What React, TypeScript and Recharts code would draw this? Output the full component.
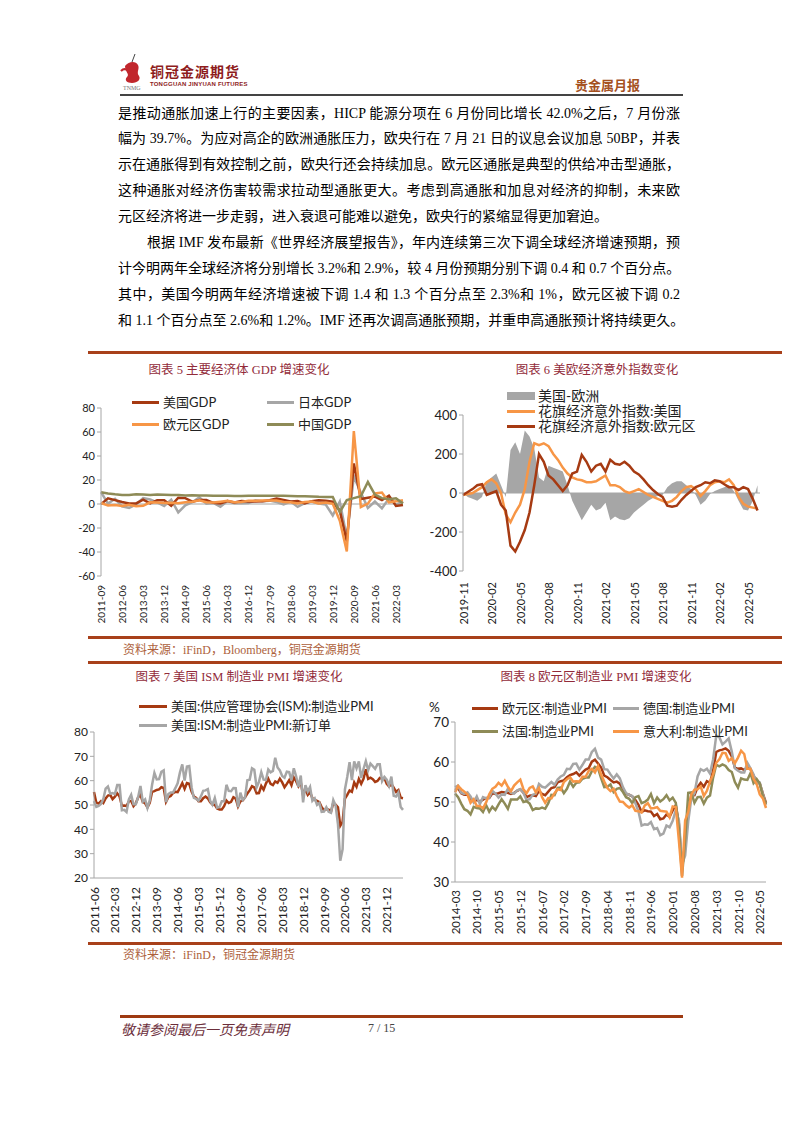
import React from "react";
import { LineChart, ComposedChart, Line, Area, XAxis, YAxis, ReferenceLine } from "recharts";

// ---------- fonts & colours ----------
const SERIF = '"Liberation Serif", "Noto Sans CJK SC", serif';
const CHART_FONT = 'Lato, "Noto Sans CJK SC", sans-serif';
const TEXT = "#222";
const RULE_RED = "#A8401A";
const TITLE_RED = "#922B3A";
const SOURCE_BROWN = "#AD5F3C";
const AXIS_GRAY = "#A6A6A6";

const C_DARKRED = "#A63A12";
const C_GRAY = "#A6A6A6";
const C_ORANGE = "#F79646";
const C_OLIVE = "#8E8B57";

// ---------- body text ----------
const PARA_LINES = [
  "是推动通胀加速上行的主要因素，HICP 能源分项在 6 月份同比增长 42.0%之后，7 月份涨",
  "幅为 39.7%。为应对高企的欧洲通胀压力，欧央行在 7 月 21 日的议息会议加息 50BP，并表",
  "示在通胀得到有效控制之前，欧央行还会持续加息。欧元区通胀是典型的供给冲击型通胀，",
  "这种通胀对经济伤害较需求拉动型通胀更大。考虑到高通胀和加息对经济的抑制，未来欧",
  "元区经济将进一步走弱，进入衰退可能难以避免，欧央行的紧缩显得更加窘迫。",
  "根据 IMF 发布最新《世界经济展望报告》，年内连续第三次下调全球经济增速预期，预",
  "计今明两年全球经济将分别增长 3.2%和 2.9%，较 4 月份预期分别下调 0.4 和 0.7 个百分点。",
  "其中，美国今明两年经济增速被下调 1.4 和 1.3 个百分点至 2.3%和 1%，欧元区被下调 0.2",
  "和 1.1 个百分点至 2.6%和 1.2%。IMF 还再次调高通胀预期，并重申高通胀预计将持续更久。",
];
const SHORT_LINES = [4];
const INDENT_LINES = [5];

// ---------- chart 5: GDP, quarterly 2011-09 .. 2022-06 ----------
const GDP_US = [-0.1, 4.7, 3.2, 1.7, 0.5, 0.5, 3.6, 0.5, 3.2, 3.2, -1.4, 5.2, 4.9, 1.9, 3.3, 3.3, 1.0, 0.4, 2.4, 1.2, 2.4, 2.0, 2.0, 2.3, 3.2, 4.6, 3.3, 2.1, 2.5, 0.5, 2.4, 3.2, 2.8, 1.9, -5.5, -31.2, 33.8, 4.2, 5.2, 6.2, 3.3, 7.0, -1.6, -0.9];
const GDP_JP = [9.9, 0.3, 4.3, -2.0, -3.2, -0.3, 5.0, 3.7, 1.4, -1.7, 3.6, -7.0, -1.1, 1.5, 5.6, 0.3, 0.9, -2.2, 2.5, 0.7, 0.6, 0.8, 3.1, 2.3, 2.8, 1.6, -0.3, 2.0, -2.4, 0.7, 2.0, 0.3, -0.5, -9.5, 2.0, -28.1, 23.0, 9.4, -3.3, 2.1, -3.6, 4.6, -0.5, 2.2];
const GDP_EZ = [0.8, -1.2, -0.8, -1.6, -0.6, -1.9, -1.5, 1.4, 1.2, 0.9, 1.0, 0.6, 1.4, 1.8, 3.1, 1.4, 1.2, 1.9, 2.7, 1.4, 1.6, 2.8, 2.7, 2.9, 3.0, 2.9, 1.6, 1.5, 0.5, 1.7, 2.1, 0.5, 1.2, 0.2, -14.0, -39.6, 60.8, -2.5, 0.3, 8.8, 9.5, 1.4, 2.2, 3.2];
const GDP_CN = [9.7, 8.8, 8.1, 7.6, 7.5, 8.1, 7.9, 7.6, 7.9, 7.7, 7.4, 7.5, 7.1, 7.2, 7.0, 7.0, 6.9, 6.8, 6.9, 6.7, 6.7, 6.8, 6.9, 6.9, 6.8, 6.8, 6.8, 6.7, 6.5, 6.4, 6.3, 6.0, 5.9, 5.8, -6.8, 3.2, 4.9, 6.5, 18.3, 7.9, 4.9, 4.0, 4.8, 0.4];

// ---------- chart 6: Citi surprise index, half-month steps from 2019-11 ----------
const SURPRISE_TICKS = ["2019-11", "2020-02", "2020-05", "2020-08", "2020-11", "2021-02", "2021-05", "2021-08", "2021-11", "2022-02", "2022-05"];
const SURPRISE_US = [-10, -5, 0, 15, 30, 55, 70, 50, 0, -110, -150, -100, -60, 20, 160, 255, 245, 255, 240, 200, 170, 130, 100, 80, 70, 65, 55, 55, 60, 75, 90, 40, 40, 30, 10, 0, 10, 20, 5, -10, -20, -30, -40, -50, -40, -20, 10, 30, 35, 20, -15, 10, 40, 55, 60, 55, 70, 40, -20, -55, -70, -75, -80];
const SURPRISE_EU = [-10, 5, 20, 40, 45, -10, 0, 10, -60, -90, -270, -300, -250, -190, -100, 40, 200, 160, 90, 70, 40, 10, 40, 100, 110, 195, 160, 110, 140, 150, 110, 170, 150, 145, 160, 140, 110, 95, 70, 40, 15, -5, -20, -65, -70, -65, -35, -10, 10, 30, 40, 55, 50, 65, 60, 45, 30, 30, 15, 30, 20, -30, -90];
const SURPRISE_DIFF = [0, -20, -30, -40, -20, 60, 80, 100, 40, -20, 220, 260, 200, 320, 290, 230, 80, 60, 140, 130, 120, 110, 40, -40, -90, -140, -100, -60, -90, -80, -50, -140, -120, -135, -140, -130, -100, -80, -60, -40, -25, -15, -10, 30, 50, 60, 60, 40, 20, -10, -60, -40, -5, 10, 20, 30, 40, 10, -40, -85, -90, -40, 40];

// ---------- chart 7: ISM, monthly 2011-06 .. 2022-07 ----------
const ISM_PMI = [
  55.3, 50.9, 50.6, 51.6, 50.8, 52.7, 53.9,
  54.1, 52.4, 53.4, 54.8, 53.5, 49.7, 49.8, 49.6, 51.5, 51.7, 49.5, 50.7,
  53.1, 54.2, 51.3, 50.7, 49.0, 50.9, 55.4, 55.7, 56.2, 56.4, 57.3, 57.0,
  51.3, 53.2, 53.7, 54.9, 55.4, 55.3, 57.1, 59.0, 56.6, 59.0, 58.7, 55.5,
  53.5, 52.9, 51.5, 51.5, 52.8, 53.5, 52.7, 51.1, 50.2, 50.1, 48.6, 48.2,
  48.2, 49.5, 51.8, 50.8, 51.3, 53.2, 52.6, 49.4, 51.5, 51.9, 53.2, 54.7,
  56.0, 57.7, 57.2, 54.8, 54.9, 57.8, 56.3, 58.8, 60.8, 58.7, 58.2, 59.7,
  59.1, 60.8, 59.3, 57.3, 58.7, 60.2, 58.1, 61.3, 59.8, 57.7, 59.3, 54.1,
  56.6, 54.2, 55.3, 52.8, 52.1, 51.7, 51.2, 49.1, 47.8, 48.3, 48.1, 47.2,
  50.9, 50.1, 49.1, 41.5, 43.1, 52.6, 54.2, 56.0, 55.4, 59.3, 57.5, 60.7,
  58.7, 60.8, 64.7, 60.7, 61.2, 60.6, 59.5, 59.9, 61.1, 60.8, 61.1, 58.7,
  57.6, 58.6, 57.1, 55.4, 56.1, 53.0, 52.8,
];
const ISM_NEW_ORDERS = [
  51.6, 49.2, 49.6, 50.4, 52.4, 56.7, 57.6,
  54.6, 54.9, 54.5, 58.2, 58.2, 47.8, 48.0, 47.1, 52.3, 54.2, 50.3, 50.3,
  53.3, 57.8, 51.4, 52.3, 48.8, 51.9, 58.3, 63.2, 60.5, 60.6, 63.6, 64.2,
  51.2, 54.5, 55.1, 55.1, 56.9, 58.9, 63.4, 66.7, 60.0, 65.8, 66.0, 57.3,
  52.9, 52.5, 51.8, 53.5, 55.8, 56.0, 56.5, 51.7, 50.1, 52.9, 48.9, 49.2,
  51.5, 51.5, 58.3, 55.8, 55.7, 57.0, 56.9, 49.1, 55.1, 52.1, 53.0, 60.2,
  60.4, 65.1, 64.5, 57.2, 59.5, 63.5, 60.4, 60.3, 64.6, 63.4, 64.0, 69.4,
  65.4, 64.2, 61.9, 61.2, 63.7, 63.5, 60.2, 65.1, 61.8, 57.4, 62.1, 51.1,
  58.2, 55.5, 57.4, 51.7, 52.7, 50.0, 50.8, 47.2, 47.3, 49.1, 47.2, 46.8,
  52.0, 49.8, 42.2, 27.1, 31.8, 56.4, 61.5, 67.6, 60.2, 67.9, 65.1, 67.9,
  61.1, 64.8, 68.0, 64.3, 67.0, 66.0, 64.9, 66.7, 66.7, 59.8, 61.5, 60.4,
  57.9, 61.7, 53.8, 53.5, 55.1, 49.2, 48.0,
];

// ---------- chart 8: euro-area PMIs, monthly 2014-03 .. 2022-07 ----------
const PMI_EZ = [
  53.0, 53.4, 52.2, 51.8, 51.8, 50.7, 50.3, 50.6, 50.1, 50.6,
  51.0, 51.0, 52.2, 52.0, 52.2, 52.5, 52.4, 52.3, 52.0, 52.3, 52.8, 53.2,
  52.3, 51.2, 51.6, 51.7, 51.5, 52.8, 52.0, 51.7, 52.6, 53.5, 53.7, 54.9,
  55.2, 55.4, 56.2, 56.7, 57.0, 57.4, 56.6, 57.4, 58.1, 58.5, 60.1, 60.6,
  59.6, 58.6, 56.6, 56.2, 55.5, 54.9, 55.1, 54.6, 53.2, 52.0, 51.8, 51.4,
  50.5, 49.3, 47.5, 47.9, 47.7, 47.6, 46.5, 47.0, 45.7, 45.9, 46.9, 46.3,
  47.9, 49.2, 44.5, 33.4, 39.4, 47.4, 51.8, 51.7, 53.7, 54.8, 53.8, 55.2,
  54.8, 57.9, 62.5, 62.9, 63.1, 63.4, 62.8, 61.4, 58.6, 58.3, 58.4, 58.0,
  58.7, 58.2, 56.5, 55.5, 54.6, 52.1, 49.8,
];
const PMI_DE = [
  53.7, 54.1, 52.3, 52.0, 52.4, 51.4, 49.9, 51.4, 49.5, 51.2,
  50.9, 51.1, 52.8, 52.1, 51.1, 51.9, 51.8, 53.3, 52.3, 52.1, 52.9, 53.2,
  52.3, 50.5, 50.7, 51.8, 52.1, 54.5, 53.8, 53.6, 54.3, 55.0, 54.3, 55.6,
  56.4, 56.8, 58.3, 58.2, 59.5, 59.6, 58.1, 59.3, 60.6, 60.6, 62.5, 63.3,
  61.1, 60.6, 58.2, 58.1, 56.9, 55.9, 56.9, 55.9, 53.7, 52.2, 51.8, 51.5,
  49.7, 47.6, 44.1, 44.4, 44.3, 45.0, 43.2, 43.5, 41.7, 42.1, 44.1, 43.7,
  45.3, 48.0, 45.4, 34.5, 36.6, 45.2, 51.0, 52.2, 56.4, 58.2, 57.8, 58.3,
  57.1, 60.7, 66.6, 66.2, 64.4, 65.1, 65.9, 62.6, 58.4, 57.8, 57.4, 57.4,
  59.8, 58.4, 56.9, 54.6, 54.8, 52.0, 49.3,
];
const PMI_FR = [
  52.1, 51.2, 49.6, 48.2, 47.8, 46.9, 48.8, 48.5, 48.4, 47.5,
  49.2, 47.6, 48.8, 48.0, 49.4, 50.7, 49.6, 48.3, 50.6, 50.6, 50.6, 51.4,
  50.0, 50.2, 49.6, 48.0, 48.4, 48.3, 48.6, 48.3, 49.7, 51.8, 51.7, 53.5,
  53.6, 52.2, 53.3, 55.1, 53.8, 54.8, 54.9, 55.8, 56.1, 56.1, 57.7, 58.8,
  58.4, 55.9, 53.7, 53.8, 54.4, 52.5, 53.3, 53.5, 52.5, 51.2, 50.8, 49.7,
  51.2, 51.5, 49.7, 50.0, 50.6, 52.0, 49.7, 51.1, 50.1, 50.7, 51.7, 50.4,
  51.1, 49.8, 43.2, 31.5, 40.6, 52.3, 52.4, 49.8, 51.2, 51.3, 49.6, 51.1,
  51.6, 56.1, 59.3, 58.9, 59.4, 59.0, 58.0, 57.5, 55.0, 53.6, 55.9, 55.6,
  55.5, 57.2, 54.7, 55.7, 54.6, 51.4, 49.5,
];
const PMI_IT = [
  52.4, 54.0, 53.2, 52.6, 51.9, 49.8, 50.7, 49.0, 49.0, 48.4,
  49.9, 51.9, 53.3, 53.8, 54.8, 54.1, 55.3, 53.8, 52.7, 54.1, 54.9, 55.6,
  53.2, 52.2, 53.5, 53.9, 52.4, 53.5, 51.2, 49.8, 51.0, 50.9, 52.2, 53.2,
  53.0, 55.0, 55.7, 56.2, 55.1, 55.2, 55.1, 56.3, 56.3, 57.8, 58.3, 57.4,
  59.0, 56.8, 55.1, 53.5, 52.7, 53.3, 51.5, 50.1, 50.0, 49.2, 48.6, 49.2,
  47.8, 47.7, 47.4, 49.1, 49.7, 48.4, 48.5, 48.7, 47.8, 47.7, 47.6, 46.2,
  48.9, 48.7, 40.3, 31.1, 45.4, 47.5, 51.9, 53.1, 53.2, 53.9, 51.5, 52.8,
  55.1, 56.9, 59.8, 60.7, 62.3, 62.2, 60.3, 60.9, 59.7, 61.1, 62.8, 62.0,
  58.3, 58.3, 55.8, 54.5, 51.9, 50.9, 48.5,
];

// month labels like "2011-06", stepping `step` months
const monthLabels = (start: string, n: number, step: number) => {
  let [y, m] = start.split("-").map(Number);
  const out: string[] = [];
  for (let i = 0; i < n; i++) {
    out.push(`${y}-${String(m).padStart(2, "0")}`);
    m += step;
    while (m > 12) { m -= 12; y += 1; }
  }
  return out;
};

const gdpQuarters = monthLabels("2011-09", GDP_US.length, 3);
const gdpData = gdpQuarters.map((q, i) => ({ q, us: GDP_US[i], jp: GDP_JP[i], ez: GDP_EZ[i], cn: GDP_CN[i] }));

const surpriseData = SURPRISE_US.map((v, i) => ({ t: i / 2, us: v, eu: SURPRISE_EU[i], diff: SURPRISE_DIFF[i] }));

const ismMonths = monthLabels("2011-06", ISM_PMI.length, 1);
const ismData = ismMonths.map((d, i) => ({ d, pmi: ISM_PMI[i], orders: ISM_NEW_ORDERS[i] }));

const pmiMonths = monthLabels("2014-03", PMI_EZ.length, 1);
const pmiData = pmiMonths.map((d, i) => ({ d, ez: PMI_EZ[i], de: PMI_DE[i], fr: PMI_FR[i], it: PMI_IT[i] }));

// ---------- small pieces ----------
const RotatedTick = ({ x, y, payload, fontSize, offset, format }: any) => {
  const ty = y + offset;
  const label = format ? format(payload.value) : payload.value;
  return (
    <text x={x} y={ty} transform={`rotate(-90 ${x} ${ty})`} textAnchor="end" dominantBaseline="central"
      fontSize={fontSize} fill={TEXT} fontFamily={CHART_FONT}>
      {label}
    </text>
  );
};

const LegendEntry = ({ x, cy, color, text, size = 13, w = 27, h = 3, gap = 4 }: any) => (
  <div style={{ position: "absolute", left: x, top: cy - 7, height: 14, display: "flex", alignItems: "center",
    whiteSpace: "nowrap", fontFamily: CHART_FONT, fontSize: size, color: TEXT, lineHeight: 1 }}>
    <span style={{ display: "inline-block", width: w, height: h, background: color, marginRight: gap }} />
    <span style={{ lineHeight: 1 }}>{text}</span>
  </div>
);

const Rule = ({ y, x1 = 88, x2 = 782, h = 3, color = RULE_RED }: any) => (
  <div style={{ position: "absolute", left: x1, top: y - h / 2, width: x2 - x1, height: h, background: color }} />
);

const Title = ({ cx, cy, text }: any) => (
  <div style={{ position: "absolute", left: cx - 160, top: cy - 9, width: 320, lineHeight: "18px", textAlign: "center",
    fontFamily: SERIF, fontSize: 12.5, color: TITLE_RED, whiteSpace: "nowrap" }}>
    {text}
  </div>
);

const Source = ({ y, text }: any) => (
  <div style={{ position: "absolute", left: 123, top: y - 9, lineHeight: "18px", fontFamily: SERIF, fontSize: 12,
    color: SOURCE_BROWN, whiteSpace: "nowrap" }}>
    {text}
  </div>
);

const yTick = (fs: number) => ({ fontSize: fs, fill: TEXT, fontFamily: CHART_FONT });

// ---------- charts ----------
function GdpChart() {
  return (
    <div style={{ position: "absolute", left: 45, top: 400 }}>
      <LineChart width={362} height={234} data={gdpData} margin={{ top: 8, right: 4, bottom: 0, left: 0 }}>
        <XAxis dataKey="q" scale="point" interval={2} axisLine={false} tickLine={false} tickSize={0} tickMargin={0}
          height={58} tick={(p: any) => <RotatedTick {...p} fontSize={10} offset={9} />} />
        <YAxis domain={[-60, 80]} ticks={[-60, -40, -20, 0, 20, 40, 60, 80]} interval={0} width={56}
          axisLine={{ stroke: AXIS_GRAY }} tickLine={{ stroke: AXIS_GRAY }} tickSize={4} tick={yTick(11)} />
        <ReferenceLine y={0} stroke={AXIS_GRAY} />
        <Line type="linear" dataKey="jp" stroke={C_GRAY} strokeWidth={2.5} dot={false} isAnimationActive={false} />
        <Line type="linear" dataKey="us" stroke={C_DARKRED} strokeWidth={2.5} dot={false} isAnimationActive={false} />
        <Line type="linear" dataKey="ez" stroke={C_ORANGE} strokeWidth={2.5} dot={false} isAnimationActive={false} />
        <Line type="linear" dataKey="cn" stroke={C_OLIVE} strokeWidth={2.5} dot={false} isAnimationActive={false} />
      </LineChart>
      <div style={{ position: "absolute", left: -45, top: -400 }}>
        <LegendEntry x={132} cy={402} color={C_DARKRED} text="美国GDP" />
        <LegendEntry x={267} cy={402} color={C_GRAY} text="日本GDP" />
        <LegendEntry x={132} cy={424} color={C_ORANGE} text="欧元区GDP" />
        <LegendEntry x={267} cy={424} color={C_OLIVE} text="中国GDP" />
      </div>
    </div>
  );
}

function SurpriseChart() {
  return (
    <div style={{ position: "absolute", left: 405, top: 400 }}>
      <ComposedChart width={359} height={231} data={surpriseData} margin={{ top: 15, right: 4, bottom: 0, left: 0 }}>
        <XAxis dataKey="t" type="number" domain={[0, 31.26]} ticks={SURPRISE_TICKS.map((_, i) => i * 3)} interval={0}
          axisLine={false} tickLine={false} tickSize={0} tickMargin={0} height={60}
          tick={(p: any) => <RotatedTick {...p} fontSize={11} offset={11} format={(v: number) => SURPRISE_TICKS[Math.round(v / 3)]} />} />
        <YAxis domain={[-400, 400]} ticks={[-400, -200, 0, 200, 400]} interval={0} width={58}
          axisLine={{ stroke: AXIS_GRAY }} tickLine={{ stroke: AXIS_GRAY }} tickSize={4} tick={yTick(13)} />
        <Area type="linear" dataKey="diff" stroke="none" fill={C_GRAY} fillOpacity={1} isAnimationActive={false} />
        <ReferenceLine y={0} stroke={AXIS_GRAY} />
        <Line type="linear" dataKey="us" stroke={C_ORANGE} strokeWidth={2.5} dot={false} isAnimationActive={false} />
        <Line type="linear" dataKey="eu" stroke={C_DARKRED} strokeWidth={2.5} dot={false} isAnimationActive={false} />
      </ComposedChart>
      <div style={{ position: "absolute", left: -405, top: -400 }}>
        <LegendEntry x={507} cy={396} color={C_GRAY} text="美国-欧洲" size={14} w={28} h={8} gap={3} />
        <LegendEntry x={507} cy={411} color={C_ORANGE} text="花旗经济意外指数:美国" size={14} w={28} gap={3} />
        <LegendEntry x={507} cy={426} color={C_DARKRED} text="花旗经济意外指数:欧元区" size={14} w={28} gap={3} />
      </div>
    </div>
  );
}

function IsmChart() {
  return (
    <div style={{ position: "absolute", left: 40, top: 720 }}>
      <LineChart width={367} height={218} data={ismData} margin={{ top: 12, right: 4, bottom: 0, left: 0 }}>
        <XAxis dataKey="d" scale="point" interval={8} axisLine={{ stroke: AXIS_GRAY }} tickLine={false} tickSize={0}
          tickMargin={0} height={60} tick={(p: any) => <RotatedTick {...p} fontSize={12} offset={9} />} />
        <YAxis domain={[20, 80]} ticks={[20, 30, 40, 50, 60, 70, 80]} interval={0} width={54}
          axisLine={{ stroke: AXIS_GRAY }} tickLine={{ stroke: AXIS_GRAY }} tickSize={4} tick={yTick(12)} />
        <Line type="linear" dataKey="pmi" stroke={C_DARKRED} strokeWidth={2.5} dot={false} isAnimationActive={false} />
        <Line type="linear" dataKey="orders" stroke={C_GRAY} strokeWidth={2.5} dot={false} isAnimationActive={false} />
      </LineChart>
      <div style={{ position: "absolute", left: -40, top: -720 }}>
        <LegendEntry x={139} cy={706} color={C_DARKRED} text="美国:供应管理协会(ISM):制造业PMI" w={28} />
        <LegendEntry x={139} cy={725} color={C_GRAY} text="美国:ISM:制造业PMI:新订单" w={28} />
      </div>
    </div>
  );
}

function EuroPmiChart() {
  return (
    <div style={{ position: "absolute", left: 400, top: 710 }}>
      <LineChart width={370} height={230} data={pmiData} margin={{ top: 12, right: 4, bottom: 0, left: 0 }}>
        <XAxis dataKey="d" scale="point" interval={6} axisLine={{ stroke: AXIS_GRAY }} tickLine={false} tickSize={0}
          tickMargin={0} height={58} tick={(p: any) => <RotatedTick {...p} fontSize={11.5} offset={8} />} />
        <YAxis domain={[30, 70]} ticks={[30, 40, 50, 60, 70]} interval={0} width={55}
          axisLine={{ stroke: AXIS_GRAY }} tickLine={{ stroke: AXIS_GRAY }} tickSize={4} tick={yTick(13.5)} />
        <Line type="linear" dataKey="ez" stroke={C_DARKRED} strokeWidth={2.5} dot={false} isAnimationActive={false} />
        <Line type="linear" dataKey="de" stroke={C_GRAY} strokeWidth={2.5} dot={false} isAnimationActive={false} />
        <Line type="linear" dataKey="fr" stroke={C_OLIVE} strokeWidth={2.5} dot={false} isAnimationActive={false} />
        <Line type="linear" dataKey="it" stroke={C_ORANGE} strokeWidth={2.5} dot={false} isAnimationActive={false} />
      </LineChart>
      <div style={{ position: "absolute", left: -400, top: -710 }}>
        <div style={{ position: "absolute", left: 429, top: 699, fontFamily: CHART_FONT, fontSize: 13.5, color: TEXT }}>%</div>
        <LegendEntry x={472} cy={708} color={C_DARKRED} text="欧元区:制造业PMI" w={26} />
        <LegendEntry x={613} cy={708} color={C_GRAY} text="德国:制造业PMI" w={26} />
        <LegendEntry x={472} cy={731} color={C_OLIVE} text="法国:制造业PMI" w={26} />
        <LegendEntry x={613} cy={731} color={C_ORANGE} text="意大利:制造业PMI" w={26} />
      </div>
    </div>
  );
}

function Header() {
  return (
    <>
      <svg style={{ position: "absolute", left: 118, top: 52 }} width={32} height={42}>
        <path d="M17 2 L14 10" stroke="#444" strokeWidth={1} />
        <path d="M7 14 C11 9, 18 9, 20 13 C22 17, 18 20, 21 24 C23 27, 20 31, 14 31 C9 31, 6 28, 9 25 C12 22, 7 20, 7 14 Z" fill="#C1272D" />
        <path d="M3 19 C6 16, 9 17, 11 20" stroke="#C1272D" strokeWidth={2.2} fill="none" />
        <text x={5} y={38} fontSize={6} fill="#777" fontFamily={SERIF}>TNMG</text>
      </svg>
      <div style={{ position: "absolute", left: 150, top: 61, fontFamily: SERIF, fontSize: 14, fontWeight: 700,
        letterSpacing: 1, color: "#8E1C1C", whiteSpace: "nowrap" }}>铜冠金源期货</div>
      <div style={{ position: "absolute", left: 150, top: 81, fontFamily: "Liberation Sans", fontSize: 6, fontWeight: 700,
        color: "#8E1C1C", whiteSpace: "nowrap", letterSpacing: 0.2 }}>TONGGUAN JINYUAN FUTURES</div>
      <div style={{ position: "absolute", left: 575, top: 75, fontFamily: SERIF, fontSize: 13, fontWeight: 700,
        color: "#A5511F", whiteSpace: "nowrap" }}>贵金属月报</div>
      <Rule y={95} x1={120} x2={683} h={1.5} color="#444" />
    </>
  );
}

function Body() {
  return (
    <>
      {PARA_LINES.map((line, i) => {
        const indent = INDENT_LINES.includes(i) ? 29 : 0;
        const justify = !SHORT_LINES.includes(i);
        return (
          <div key={i} style={{ position: "absolute", left: 118 + indent, top: 113.5 + i * 25.9 - 10, width: 562 - indent,
            height: 20, lineHeight: "20px", fontFamily: SERIF, fontSize: 14, color: "#000", whiteSpace: "nowrap",
            textAlign: justify ? "justify" : "left", textAlignLast: justify ? "justify" : "left" } as any}>
            {line}
          </div>
        );
      })}
    </>
  );
}

function Footer() {
  return (
    <>
      <Rule y={1016} x1={120} x2={683} h={3} color="#9E3A12" />
      <div style={{ position: "absolute", left: 121, top: 1019, fontFamily: SERIF, fontSize: 14, fontStyle: "italic",
        color: "#6B2D3A", whiteSpace: "nowrap" }}>敬请参阅最后一页免责声明</div>
      <div style={{ position: "absolute", left: 368, top: 1021, fontFamily: SERIF, fontSize: 12, color: "#444",
        whiteSpace: "nowrap" }}>7 / 15</div>
    </>
  );
}

export default function App() {
  return (
    <div style={{ position: "absolute", left: 0, top: 0, width: 802, height: 1133, background: "#fff", overflow: "hidden" }}>
      <Header />
      <Body />
      <Rule y={352} />
      <Title cx={239} cy={370} text="图表 5 主要经济体 GDP 增速变化" />
      <Title cx={597} cy={370} text="图表 6  美欧经济意外指数变化" />
      <GdpChart />
      <SurpriseChart />
      <Rule y={637} />
      <Source y={650} text="资料来源：iFinD，Bloomberg，铜冠金源期货" />
      <Rule y={662} />
      <Title cx={239} cy={677} text="图表 7 美国 ISM 制造业 PMI 增速变化" />
      <Title cx={596} cy={677} text="图表 8 欧元区制造业 PMI 增速变化" />
      <IsmChart />
      <EuroPmiChart />
      <Rule y={943} />
      <Source y={955} text="资料来源：iFinD，铜冠金源期货" />
      <Footer />
    </div>
  );
}
